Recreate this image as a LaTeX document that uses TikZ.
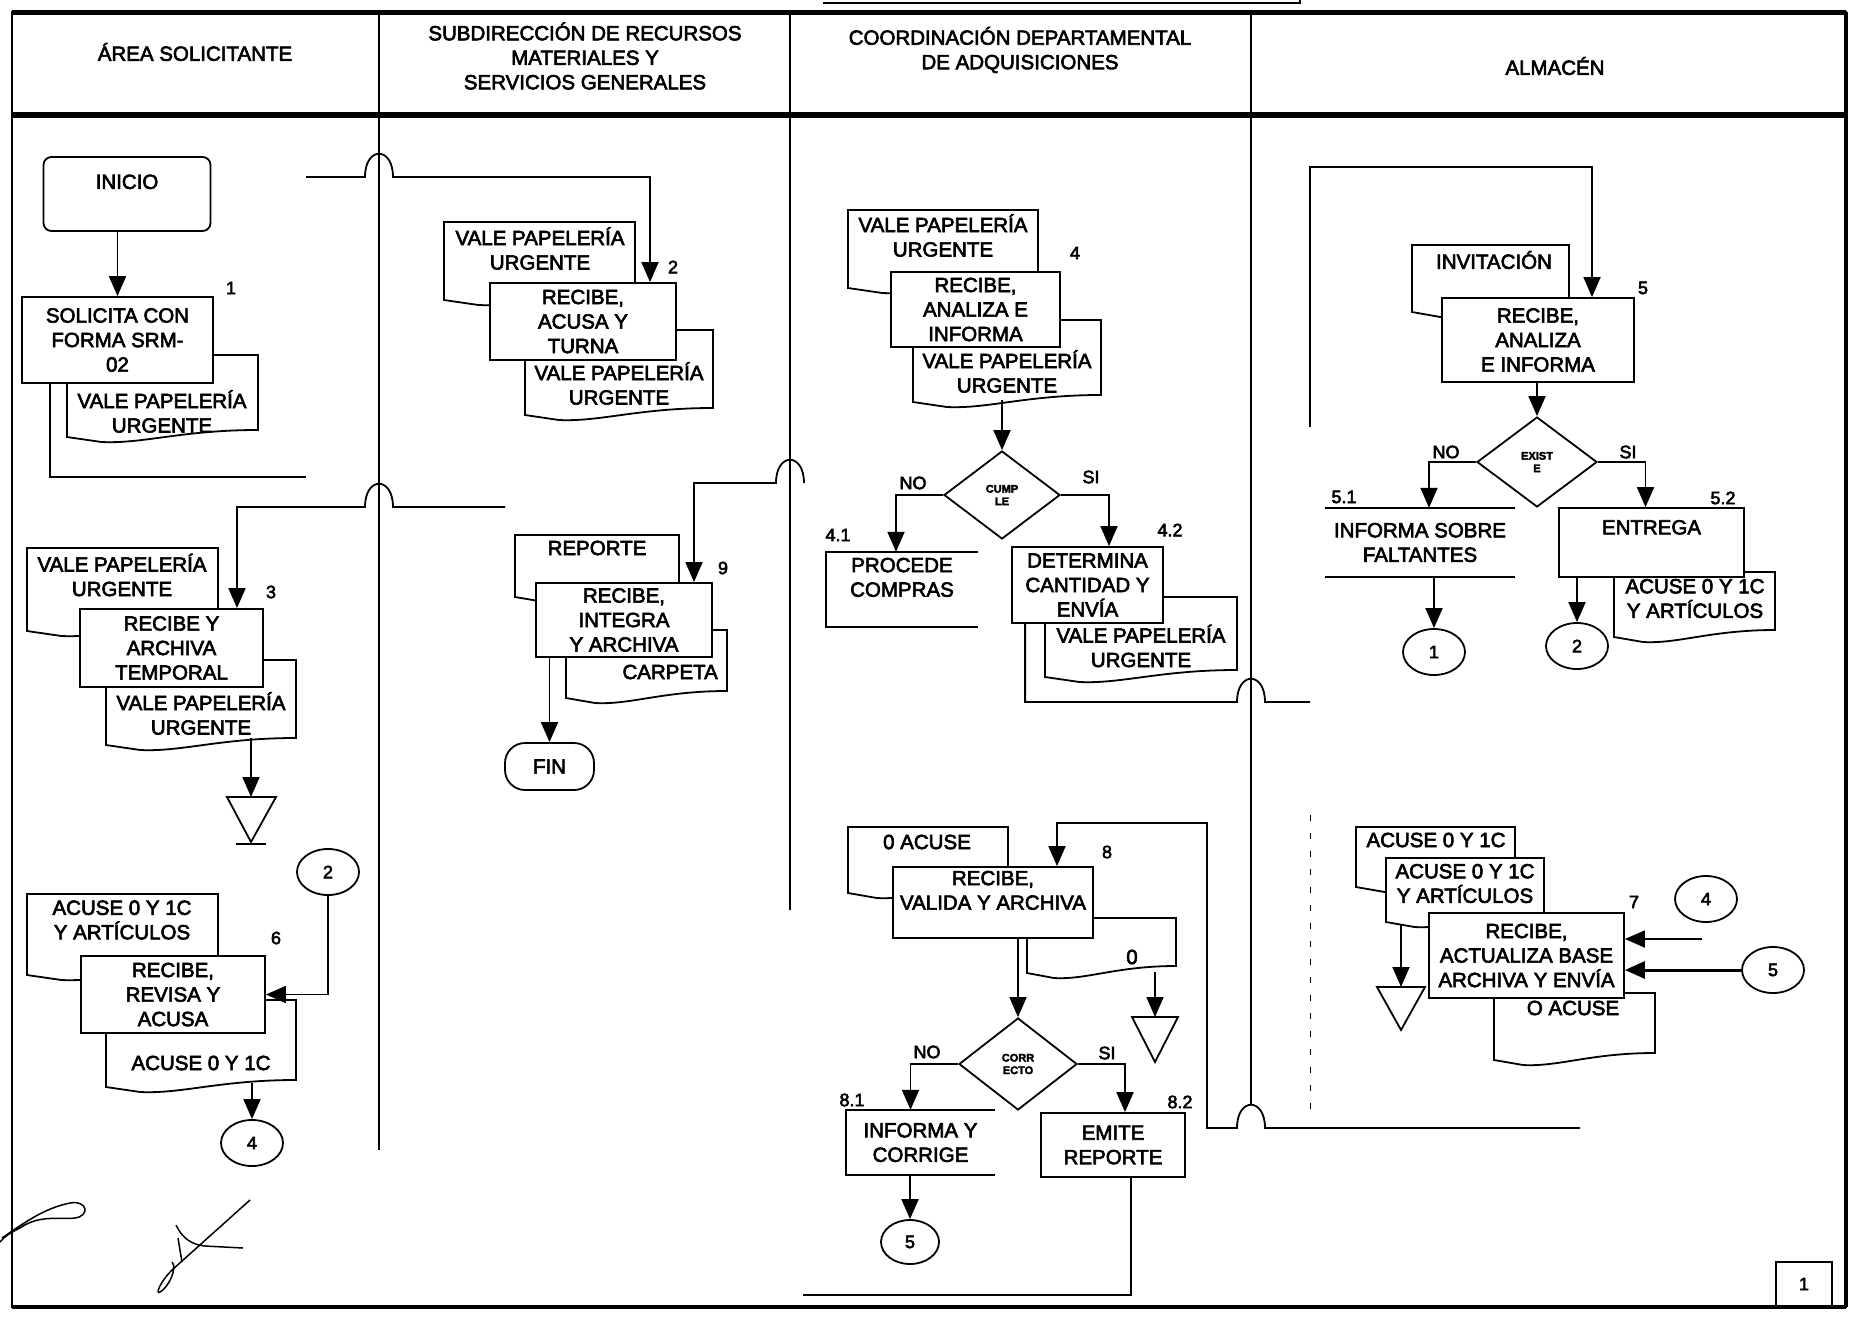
\documentclass[tikz,border=0pt]{standalone}
\usepackage{fontspec}
\setmainfont[FakeBold=3]{Liberation Sans}
\usetikzlibrary{arrows.meta,shapes.geometric,calc}
\newcommand\tf{\fontsize{20.5}{24.5}\selectfont}
\newcommand\nf{\fontsize{18}{20}\selectfont}
\newcommand\dfnt{\fontsize{11}{12.5}\selectfont\bfseries}
\tikzset{
 ln/.style={line width=1.8pt},
 arr/.style={line width=1.8pt,-{Triangle[length=20pt,width=17pt]}},
 boxn/.style={draw,line width=1.8pt,fill=white,inner sep=0pt,align=center,font=\tf},
 txt/.style={inner sep=0pt,align=center,font=\tf},
 num/.style={inner sep=0pt,font=\nf},
 dec/.style={diamond,draw,line width=1.8pt,fill=white,inner sep=0pt,align=center,font=\dfnt},
 conn/.style={ellipse,draw,line width=1.8pt,fill=white,inner sep=0pt,minimum width=62pt,minimum height=46pt,font=\nf},
 docl/.style={draw,line width=1.8pt,fill=white},
}
% #1 x1, #2 y1, #3 x2, #4 yb
\newcommand\docsh[4]{%
 \draw[docl] (#1,#2) -- (#3,#2) -- (#3,{#4-12})
  .. controls ({#1+0.6*(#3-#1)},{#4-12}) and ({#1+0.4*(#3-#1)},{#4+2}) .. ({#1+0.18*(#3-#1)},{#4})
  -- (#1,{#4-5}) -- cycle;}
\begin{document}
\begin{tikzpicture}[x=1pt,y=-1pt]
\useasboundingbox (0,0) rectangle (1852,1317);
\fill[white] (0,0) rectangle (1852,1317);

% frame and lanes
\draw[line width=2pt] (823,3) -- (1300,3) -- (1300,0);
\draw[line width=2.5pt] (12,12) rectangle (1846,1307);
\draw[line width=5pt] (12,12) -- (1846,12);
\draw[line width=6pt] (12,115) -- (1846,115);
\draw[line width=4pt] (12,1307) -- (1846,1307);
\draw[line width=4pt] (1846,12) -- (1846,1307);
\draw[line width=2.5pt] (379,12) -- (379,1150);
\draw[line width=2.5pt] (790,12) -- (790,910);
\draw[line width=2.5pt] (1251,12) -- (1251,1105);
\draw[line width=1pt,dash pattern=on 6pt off 12pt] (1310,815) -- (1310,1120);

% headers
\node[txt] (h1) at (195,52) {ÁREA SOLICITANTE};
\node[txt] (h2) at (585,56) {SUBDIRECCIÓN DE RECURSOS\\MATERIALES Y\\SERVICIOS GENERALES};
\node[txt] (h3) at (1020,50) {COORDINACIÓN DEPARTAMENTAL\\DE ADQUISICIONES};
\node[txt] (h4) at (1555,66) {ALMACÉN};

% documents (behind the boxes)
\docsh{67}{355}{258}{442}
\docsh{444}{222}{635}{305}
\docsh{525}{330}{713}{420}
\docsh{27}{548}{218}{636}
\docsh{106}{660}{296}{750}
\docsh{27}{894}{218}{980}
\docsh{106}{1000}{296}{1092}
\docsh{515}{535}{679}{602}
\docsh{566}{630}{727}{703}
\docsh{848}{210}{1038}{293}
\docsh{913}{320}{1101}{407}
\docsh{1045}{597}{1237}{682}
\docsh{848}{827}{1008}{898}
\docsh{1027}{918}{1176}{978}
\docsh{1412}{245}{1569}{317}
\docsh{1614}{572}{1775}{642}
\docsh{1356}{827}{1515}{892}
\docsh{1386}{858}{1544}{927}
\docsh{1494}{993}{1655}{1065}

\node[txt] (d1t) at (162,411.5) {VALE PAPELERÍA\\URGENTE};
\node[txt] (d2at) at (540,248.5) {VALE PAPELERÍA\\URGENTE};
\node[txt] (d2bt) at (619,383.5) {VALE PAPELERÍA\\URGENTE};
\node[txt] (d3at) at (122,575) {VALE PAPELERÍA\\URGENTE};
\node[txt] (d3bt) at (201,713.5) {VALE PAPELERÍA\\URGENTE};
\node[txt] (d6at) at (122,920) {ACUSE 0 Y 1C\\Y ARTÍCULOS};
\node[txt] (d6bt) at (201,1063) {ACUSE 0 Y 1C};
\node[txt] (d9at) at (597,548) {REPORTE};
\node[txt,anchor=east] (d9bt) at (718,672) {CARPETA};
\node[txt] (d4at) at (943,235.5) {VALE PAPELERÍA\\URGENTE};
\node[txt] (d4bt) at (1007,371.5) {VALE PAPELERÍA\\URGENTE};
\node[txt] (d42t) at (1141,646) {VALE PAPELERÍA\\URGENTE};
\node[txt] (d8at) at (927,842) {0 ACUSE};
\node[txt] (d8bt) at (1132,957) {0};
\node[txt] (d5at) at (1494,260) {INVITACIÓN};
\node[txt] (d52t) at (1695,598.5) {ACUSE 0 Y 1C\\Y ARTÍCULOS};
\node[txt] (d7at) at (1436,840) {ACUSE 0 Y 1C};
\node[txt] (d7bt) at (1465,883.5) {ACUSE 0 Y 1C\\Y ARTÍCULOS};
\node[txt] (d7ct) at (1573,1008) {O ACUSE};

% boxes
\node[boxn,rounded corners=8pt,minimum width=167pt,minimum height=74pt] (inicio) at (127,194) {INICIO\\~};
\node[boxn,minimum width=191pt,minimum height=86pt] (b1) at (117.5,340) {SOLICITA CON\\FORMA SRM-\\02};
\node[boxn,minimum width=186pt,minimum height=77pt] (b2) at (583,321.5) {RECIBE,\\ACUSA Y\\TURNA};
\node[boxn,minimum width=183pt,minimum height=78pt] (b3) at (171.5,648) {RECIBE Y\\ARCHIVA\\TEMPORAL};
\node[boxn,minimum width=184pt,minimum height=77pt] (b6) at (173,994.5) {RECIBE,\\REVISA Y\\ACUSA};
\node[boxn,minimum width=176pt,minimum height=74pt] (b9) at (624,620) {RECIBE,\\INTEGRA\\Y ARCHIVA};
\node[boxn,rounded corners=20pt,minimum width=89pt,minimum height=47pt] (fin) at (549.5,766.5) {FIN};
\node[boxn,minimum width=169pt,minimum height=75pt] (b4) at (975.5,309.5) {RECIBE,\\ANALIZA E\\INFORMA};
\node[txt,minimum width=152pt,minimum height=75pt] (b41) at (902,589.5) {PROCEDE\\COMPRAS\\~};
\draw[ln] (b41.north east) -- (b41.north west) -- (b41.south west) -- (b41.south east);
\node[boxn,minimum width=151pt,minimum height=76pt] (b42) at (1087.5,585) {DETERMINA\\CANTIDAD Y\\ENVÍA};
\node[boxn,minimum width=200pt,minimum height=71pt] (b8) at (993,902.5) {RECIBE,\\VALIDA Y ARCHIVA\\~};
\node[txt,minimum width=149pt,minimum height=65pt] (b81) at (920.5,1142.5) {INFORMA Y\\CORRIGE};
\draw[ln] (b81.north east) -- (b81.north west) -- (b81.south west) -- (b81.south east);
\node[boxn,minimum width=144pt,minimum height=64pt] (b82) at (1113,1145) {EMITE\\REPORTE};
\node[boxn,minimum width=192pt,minimum height=84pt] (b5) at (1538,340) {RECIBE,\\ANALIZA\\E INFORMA};
\node[txt,minimum width=190pt,minimum height=69pt] (b51) at (1420,542.5) {INFORMA SOBRE\\FALTANTES};
\draw[ln] (b51.north west) -- (b51.north east);
\draw[ln] (b51.south west) -- (b51.south east);
\node[boxn,minimum width=185pt,minimum height=69pt] (b52) at (1651.5,542.5) {ENTREGA\\[6pt]~};
\node[boxn,minimum width=195pt,minimum height=85pt] (b7) at (1526.5,955.5) {RECIBE,\\ACTUALIZA BASE\\ARCHIVA Y ENVÍA};

% decisions
\node[dec,minimum width=116pt,minimum height=88pt] (dm1) at (1002,495) {CUMP\\LE};
\node[dec,minimum width=118pt,minimum height=92pt] (dm2) at (1018,1064) {CORR\\ECTO};
\node[dec,minimum width=120pt,minimum height=90pt] (dm3) at (1537,462) {EXIST\\E};

% connectors (circles)
\node[conn] (c2a) at (328,872) {2};
\node[conn] (c4a) at (252,1143) {4};
\node[conn,minimum width=58pt,minimum height=44pt] (c5a) at (910,1242) {5};
\node[conn] (c1) at (1434,652) {1};
\node[conn] (c2b) at (1577,646) {2};
\node[conn] (c4b) at (1706,899) {4};
\node[conn] (c5b) at (1773,970) {5};

% archive triangles
\coordinate (t1) at (251,797);
\draw[ln] (227,797) -- (276,797) -- (251,842) -- cycle;
\draw[ln] (236,844) -- (266,844);
\coordinate (t2) at (1155,1017);
\draw[ln] (1132,1017) -- (1178,1017) -- (1155,1062) -- cycle;
\coordinate (t3) at (1401,987);
\draw[ln] (1377,987) -- (1425,987) -- (1401,1030) -- cycle;

% free ends and bends
\coordinate (e1) at (306,477);
\coordinate (e2) at (306,177);
\coordinate (a2) at (650,177);
\coordinate (e3) at (505,507);
\coordinate (a3) at (237,507);
\coordinate (e9) at (804,483);
\coordinate (a9) at (694,483);
\coordinate (e42) at (1310,702);
\coordinate (e5) at (1310,427);
\coordinate (a5) at (1592,167);
\coordinate (e8) at (1580,1128);
\coordinate (a8) at (1057,823);
\coordinate (e82) at (803,1295);
\coordinate (e7) at (1702,939);
\coordinate (d3bo) at (251,738);
\coordinate (d6bo) at (252,1083);
\coordinate (d4bo) at (1002,400);
\coordinate (d8bo) at (1155,972);
\coordinate (d7bo) at (1401,925);

% flows
\draw[arr] (inicio.south -| b1.north) -- (b1.north);
\draw[ln] ([xshift=29pt]b1.south west) |- (e1);
\draw[arr] (e2) -- (365,177) .. controls (365,146) and (393,146) .. (393,177) -- (a2) -- (a2 |- b2.north);
\draw[arr] (e3) -- (393,507) .. controls (393,476) and (365,476) .. (365,507) -- (a3) -- (a3 |- b3.north);
\draw[arr] (d3bo) -- (t1);
\draw[arr] (c2a.south) |- (b6.east);
\draw[arr] (d6bo) -- (c4a.north);
\draw[arr] (e9) .. controls (804,452) and (776,452) .. (776,483) -- (a9) -- (a9 |- b9.north);
\draw[arr] (fin.north |- b9.south) -- (fin.north);
\draw[arr] (d4bo) -- (dm1.north);
\draw[arr] (dm1.west) -| ([xshift=-6pt]b41.north);
\draw[arr] (dm1.east) -| ([xshift=21.5pt]b42.north);
\draw[ln] ([xshift=14pt]b42.south west) |- (1237,702) .. controls (1237,671) and (1265,671) .. (1265,702) -- (e42);
\draw[arr] (e5) |- (a5) -- (a5 |- b5.north);
\draw[arr] (dm3.north |- b5.south) -- (dm3.north);
\draw[arr] (dm3.west) -| ([xshift=9pt]b51.north);
\draw[arr] (dm3.east) -| ([xshift=-6pt]b52.north);
\draw[arr] (c1.north |- b51.south) -- (c1.north);
\draw[arr] (c2b.north |- b52.south) -- (c2b.north);
\draw[arr] (e8) -- (1265,1128) .. controls (1265,1097) and (1237,1097) .. (1237,1128) -- (1207,1128) -- (1207,823) -- (a8) -- (a8 |- b8.north);
\draw[arr] (dm2.north |- b8.south) -- (dm2.north);
\draw[arr] (d8bo) -- (t2);
\draw[arr] (dm2.west) -| ([xshift=-10pt]b81.north);
\draw[arr] (dm2.east) -| ([xshift=12pt]b82.north);
\draw[arr] (c5a.north |- b81.south) -- (c5a.north);
\draw[ln] ([xshift=18pt]b82.south) |- (e82);
\draw[arr] (d7bo) -- (t3);
\draw[arr] (e7) -- (e7 -| b7.east);
\draw[arr,line width=3pt] (c5b.west) -- (c5b.west -| b7.east);

% labels
\node[num] (n1) at (231,288) {1};
\node[num] (n2) at (673,267) {2};
\node[num] (n3) at (271,592) {3};
\node[num] (n6) at (276,938) {6};
\node[num] (n9) at (723,568) {9};
\node[num] (n4) at (1075,253) {4};
\node[num] (n41) at (838,535) {4.1};
\node[num] (n42) at (1170,530) {4.2};
\node[num] (no1) at (913,483) {NO};
\node[num] (si1) at (1091,477) {SI};
\node[num] (n8) at (1107,852) {8};
\node[num] (no2) at (927,1052) {NO};
\node[num] (si2) at (1107,1053) {SI};
\node[num] (n81) at (852,1100) {8.1};
\node[num] (n82) at (1180,1102) {8.2};
\node[num] (n5) at (1643,288) {5};
\node[num] (no3) at (1446,452) {NO};
\node[num] (si3) at (1628,452) {SI};
\node[num] (n51) at (1344,497) {5.1};
\node[num] (n52) at (1723,498) {5.2};
\node[num] (n7) at (1634,902) {7};

% page number
\node[draw,line width=2pt,minimum width=56pt,minimum height=45pt,inner sep=0pt,font=\nf] (pg) at (1804,1284) {1};

% signatures
\draw[line width=1.5pt] (2,1238) .. controls (25,1222) and (45,1208) .. (70,1203) .. controls (88,1200) and (90,1216) .. (75,1218) .. controls (60,1220) and (40,1214) .. (20,1228) .. controls (10,1233) and (5,1236) .. (0,1242);
\draw[line width=1.5pt] (250,1200) -- (172,1270) .. controls (160,1282) and (155,1295) .. (160,1292) .. controls (168,1288) and (178,1268) .. (172,1262);
\draw[line width=1.5pt] (176,1225) .. controls (182,1238) and (192,1245) .. (205,1246) -- (243,1248);
\draw[line width=1.5pt] (178,1238) -- (182,1262);
\end{tikzpicture}
\end{document}
